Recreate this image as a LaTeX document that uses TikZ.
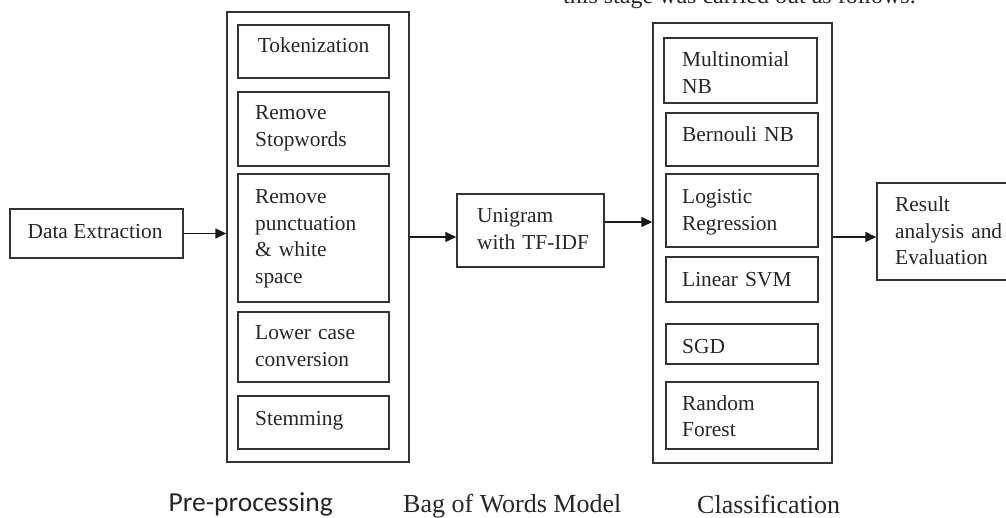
\documentclass[tikz,border=0pt]{standalone}
\usepackage{fontspec}
\setmainfont{Liberation Serif}
\newfontfamily\carlitofont{Carlito}
\usetikzlibrary{arrows.meta}
\begin{document}
\begin{tikzpicture}[x=1pt,y=-1pt,
  box/.style={draw=black!80, line width=1.5pt, inner sep=0pt, rectangle},
  txt/.style={font=\fontsize{21.4}{26.5}\selectfont, text=black!85, inner sep=0pt, align=left, text width=150pt, anchor=base west},
  lbl/.style={font=\fontsize{26}{30}\selectfont, text=black!85, inner sep=0pt},
  arr/.style={draw=black!90, line width=1.6pt, -{Triangle[length=11pt,width=10pt]}}]
\useasboundingbox (0,0) rectangle (1006,518);
\clip (0,0) rectangle (1006,518);
% top clipped text
\node[anchor=base west, inner sep=0pt, font=\fontsize{24}{28}\selectfont, text=black!85] (toptext) at (563,4) {this stage was carried out as follows.};
% boxes
\node[box, minimum width=173pt, minimum height=49pt] (de) at (96.5,233.5) {};
\node[box, minimum width=182pt, minimum height=450pt] (pre) at (318,237) {};
\node[box, minimum width=151pt, minimum height=53pt] (tok) at (313.5,51.5) {};
\node[box, minimum width=151pt, minimum height=74pt] (stop) at (313.5,129) {};
\node[box, minimum width=151pt, minimum height=128pt] (punc) at (313.5,238) {};
\node[box, minimum width=151pt, minimum height=70pt] (lower) at (313.5,347) {};
\node[box, minimum width=151pt, minimum height=53pt] (stem) at (313.5,422.5) {};
\node[box, minimum width=147pt, minimum height=73pt] (uni) at (530.5,230.5) {};
\node[box, minimum width=179pt, minimum height=440pt] (cls) at (742.5,243) {};
\node[box, minimum width=153pt, minimum height=65pt] (mnb) at (740.5,70.5) {};
\node[box, minimum width=152pt, minimum height=53pt] (bnb) at (742,139.5) {};
\node[box, minimum width=152pt, minimum height=73pt] (lr) at (742,210.5) {};
\node[box, minimum width=152pt, minimum height=45pt] (svm) at (742,279.5) {};
\node[box, minimum width=152pt, minimum height=40pt] (sgd) at (742,344) {};
\node[box, minimum width=152pt, minimum height=67pt] (rf) at (742,415.5) {};
\node[box, minimum width=135pt, minimum height=97pt] (res) at (944.5,231.5) {};
% texts
\node[txt, text width=, align=center, anchor=base] (tde) at (95,239) {Data Extraction};
\node[txt, text width=, align=center, anchor=base] (ttok) at (313.5,53) {Tokenization};
\node[txt] (tstop) at (255,120) {Remove\\Stopwords};
\node[txt] (tpunc) at (255,204) {Remove\\punctuation\\\& white\\space};
\node[txt] (tlower) at (255,340) {Lower case\\conversion};
\node[txt] (tstem) at (255,425) {Stemming};
\node[txt] (tuni) at (477,223) {Unigram\\with TF-IDF};
\node[txt] (tmnb) at (682,67) {Multinomial\\NB};
\node[txt] (tbnb) at (682,142) {Bernouli NB};
\node[txt] (tlr) at (682,204) {Logistic\\Regression};
\node[txt] (tsvm) at (682,287) {Linear SVM};
\node[txt] (tsgd) at (682,353) {SGD};
\node[txt] (trf) at (682,410) {Random\\Forest};
\node[txt] (tres) at (895,212) {Result\\analysis and\\Evaluation};
% labels
\node[lbl, font=\carlitofont\fontsize{27.5}{30}\selectfont, anchor=base east] (lpre) at (333,511) {Pre-processing};
\node[lbl, anchor=base west] (lbow) at (403,512) {Bag of Words Model};
\node[lbl, anchor=base west] (lcls) at (697,513) {Classification};
% arrows
\draw[arr] (de.east) -- (de.east -| pre.west);
\draw[arr] (pre.east) -- (pre.east -| uni.west);
\coordinate (u3) at ([yshift=8.5pt]uni.east);
\draw[arr] (u3) -- (u3 -| cls.west);
\coordinate (c4) at ([yshift=6pt]cls.east);
\draw[arr] (c4) -- (c4 -| res.west);
\end{tikzpicture}
\end{document}
